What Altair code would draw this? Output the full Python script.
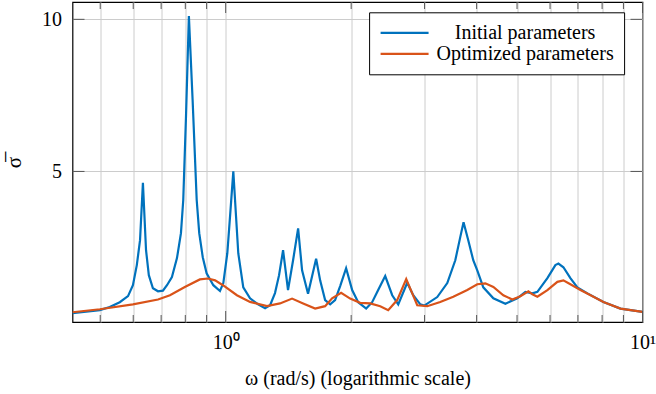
import altair as alt
import pandas as pd

# ---------------- data ----------------
series_names = ["Initial parameters", "Optimized parameters"]
series_colors = ["#0072BD", "#D95319"]

omega_initial = [0.429, 0.499, 0.527, 0.557, 0.583, 0.599, 0.612, 0.623, 0.633, 0.644,
                 0.654, 0.669, 0.688, 0.707, 0.723, 0.743, 0.764, 0.781, 0.791, 0.803,
                 0.816, 0.833, 0.852, 0.864, 0.881, 0.900, 0.934, 0.969, 0.987, 1.009,
                 1.024, 1.043, 1.059, 1.072, 1.102, 1.144, 1.196, 1.243, 1.278, 1.313,
                 1.343, 1.373, 1.411, 1.451, 1.492, 1.525, 1.576, 1.648, 1.685, 1.732,
                 1.781, 1.830, 1.882, 1.945, 2.011, 2.079, 2.173, 2.246, 2.322, 2.414,
                 2.509, 2.594, 2.726, 2.818, 2.930, 2.995, 3.218, 3.401, 3.555, 3.654,
                 3.721, 3.819, 3.926, 4.014, 4.150, 4.387, 4.689, 5.008, 5.235, 5.443,
                 5.595, 5.913, 6.180, 6.284, 6.460, 6.714, 6.980, 7.377, 8.058, 8.854,
                 10.0]
sigma_initial = [0.34, 0.44, 0.54, 0.70, 0.90, 1.26, 1.92, 2.74, 4.63, 2.41,
                 1.59, 1.16, 1.06, 1.08, 1.26, 1.53, 2.15, 2.97, 4.06, 6.79,
                 10.11, 7.35, 4.06, 2.97, 2.18, 1.65, 1.26, 1.07, 1.33, 2.31,
                 3.50, 5.00, 3.50, 2.31, 1.19, 0.83, 0.63, 0.50, 0.60, 1.00,
                 1.59, 2.41, 1.10, 2.08, 3.13, 1.75, 0.98, 2.13, 1.42, 0.77,
                 0.63, 0.77, 1.23, 1.82, 1.10, 0.70, 0.49, 0.70, 1.10, 1.56,
                 0.93, 0.63, 1.34, 0.93, 0.63, 0.59, 0.87, 1.33, 2.08, 2.84,
                 3.33, 2.74, 2.08, 1.75, 1.19, 0.83, 0.65, 0.83, 1.04, 0.99,
                 1.04, 1.49, 1.92, 1.97, 1.85, 1.49, 1.19, 0.99, 0.71, 0.49,
                 0.38]

omega_optimized = [0.429, 0.499, 0.599, 0.688, 0.735, 0.798, 0.867, 0.907, 0.943, 0.985,
                   1.064, 1.144, 1.256, 1.350, 1.443, 1.534, 1.639, 1.732, 1.800, 1.892,
                   1.989, 2.102, 2.222, 2.348, 2.454, 2.579, 2.711, 2.803, 2.881, 3.045,
                   3.271, 3.516, 3.798, 4.014, 4.196, 4.387, 4.636, 4.872, 5.093, 5.324,
                   5.443, 5.595, 5.913, 6.249, 6.460, 6.714, 7.098, 7.627, 8.058, 8.854,
                   10.0]
sigma_optimized = [0.37, 0.47, 0.63, 0.79, 0.93, 1.20, 1.45, 1.48, 1.42, 1.26,
                   0.93, 0.71, 0.57, 0.66, 0.82, 0.66, 0.49, 0.57, 0.83, 1.01,
                   0.82, 0.68, 0.66, 0.57, 0.44, 0.77, 1.46, 0.99, 0.60, 0.57,
                   0.71, 0.88, 1.10, 1.29, 1.32, 1.20, 0.93, 0.79, 0.90, 1.06,
                   0.96, 0.88, 1.10, 1.37, 1.42, 1.29, 1.10, 0.88, 0.71, 0.49,
                   0.38]

x_minor_ticks = [0.5, 0.6, 0.7, 0.8, 0.9, 2, 3, 4, 5, 6, 7, 8, 9]
x_major_ticks = [1, 10]
y_ticks = [5, 10]
x_domain = [0.429, 10]
y_domain = [0.05, 10.57]

# ---------------- tables ----------------
df = pd.DataFrame(
    {"omega": omega_initial + omega_optimized,
     "sigma": sigma_initial + sigma_optimized,
     "series": [series_names[0]] * len(omega_initial) + [series_names[1]] * len(omega_optimized)}
)
minor_df = pd.DataFrame({"omega": x_minor_ticks})
major_df = pd.DataFrame({"omega": x_major_ticks})
ytick_df = pd.DataFrame({"sigma": y_ticks})

FONT = "Liberation Serif"
W, H = 570, 320
GRID = "#cccccc"
TICK = "#555555"

x_scale = alt.Scale(type="log", domain=x_domain, nice=False)
y_scale = alt.Scale(domain=y_domain, nice=False, zero=False)

x_axis = alt.Axis(values=x_minor_ticks + x_major_ticks,
                  labelExpr="datum.value == 1 ? '10⁰' : (datum.value == 10 ? '10¹' : '')",
                  labelOverlap=False, labelFlush=False, labelPadding=10,
                  title="ω (rad/s) (logarithmic scale)",
                  titleX=W / 2, titleY=62, titleBaseline="alphabetic", titleAlign="center")
y_axis = alt.Axis(values=y_ticks, labelPadding=11,
                  title="σ\u0305", titleFontSize=21,
                  titleX=-58, titleY=160, titleAngle=270,
                  titleAlign="center", titleBaseline="middle")

lines = alt.Chart(df).mark_line(strokeWidth=2.2, clip=True).encode(
    x=alt.X("omega:Q", scale=x_scale, axis=x_axis),
    y=alt.Y("sigma:Q", scale=y_scale, axis=y_axis),
    color=alt.Color("series:N",
                    scale=alt.Scale(domain=series_names, range=series_colors),
                    legend=alt.Legend(title=None, orient="none", legendX=296.6, legendY=10.3,
                                      symbolType="M-1,0H4.33", symbolSize=324, symbolStrokeWidth=2.2,
                                      labelAlign="center", labelOffset=125, labelLimit=0,
                                      padding=10, rowPadding=0,
                                      strokeColor="black", fillColor="white", cornerRadius=0)),
)

bottom_minor = alt.Chart(minor_df).mark_rule(color=TICK, strokeWidth=1).encode(
    x=alt.X("omega:Q", scale=x_scale), y=alt.value(H), y2=alt.value(H - 7))
top_minor = alt.Chart(minor_df).mark_rule(color=TICK, strokeWidth=1).encode(
    x=alt.X("omega:Q", scale=x_scale), y=alt.value(0), y2=alt.value(7))
bottom_major = alt.Chart(major_df).mark_rule(color=TICK, strokeWidth=1).encode(
    x=alt.X("omega:Q", scale=x_scale), y=alt.value(H), y2=alt.value(H - 11))
top_major = alt.Chart(major_df).mark_rule(color=TICK, strokeWidth=1).encode(
    x=alt.X("omega:Q", scale=x_scale), y=alt.value(0), y2=alt.value(11))
left_y = alt.Chart(ytick_df).mark_rule(color=TICK, strokeWidth=1).encode(
    y=alt.Y("sigma:Q", scale=y_scale), x=alt.value(0), x2=alt.value(12))
right_y = alt.Chart(ytick_df).mark_rule(color=TICK, strokeWidth=1).encode(
    y=alt.Y("sigma:Q", scale=y_scale), x=alt.value(W - 12), x2=alt.value(W))

chart = alt.layer(lines, bottom_minor, top_minor, bottom_major, top_major, left_y, right_y).properties(
    width=W, height=H,
    autosize=alt.AutoSizeParams(type="none"),
    padding={"left": 72.5, "top": 2, "right": 13, "bottom": 72},
    background="white",
).configure_view(
    stroke="black", strokeWidth=1.2
).configure_axis(
    labelFont=FONT, labelFontSize=20, labelColor="black",
    titleFont=FONT, titleFontSize=20, titleFontWeight="normal", titleColor="black",
    ticks=False, domain=False, grid=True, gridColor=GRID, gridWidth=1,
).configure_legend(
    labelFont=FONT, labelFontSize=20, labelColor="black",
)

chart.save("out.html", embed_options={"renderer": "svg", "actions": False})
